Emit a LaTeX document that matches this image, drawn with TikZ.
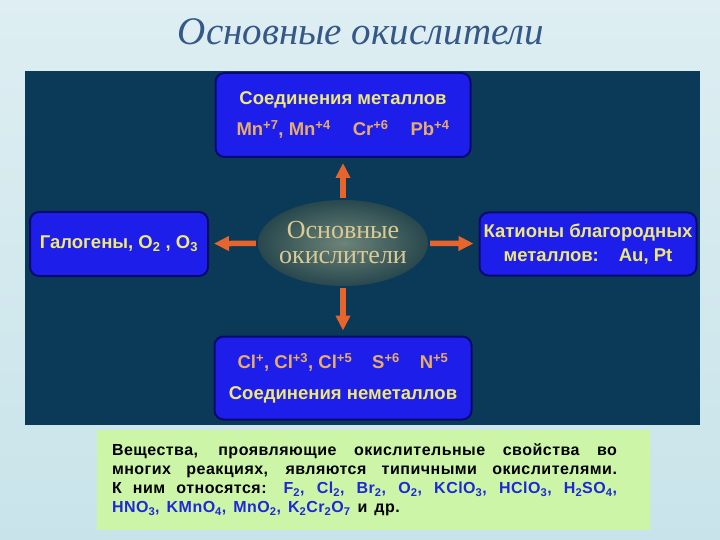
\documentclass[tikz,border=0pt]{standalone}
\usepackage{fontspec}
\setmainfont{Liberation Sans}
\newfontfamily\serifcyr{Liberation Serif}
\newfontfamily\notefont[LetterSpace=3]{Liberation Sans}
\usetikzlibrary{arrows.meta,shapes.geometric}

\definecolor{bgtop}{RGB}{222,238,242}
\definecolor{bgbot}{RGB}{200,228,234}
\definecolor{panel}{RGB}{10,58,88}
\definecolor{titleblue}{RGB}{52,88,135}
\definecolor{boxblue}{RGB}{30,30,235}
\definecolor{boxedge}{RGB}{10,10,110}
\definecolor{yel}{RGB}{238,232,120}
\definecolor{tan}{RGB}{232,172,105}
\definecolor{arrowor}{RGB}{232,100,45}
\definecolor{corein}{RGB}{108,132,120}
\definecolor{coreout}{RGB}{40,72,78}
\definecolor{coretext}{RGB}{218,202,150}
\definecolor{notegreen}{RGB}{204,245,168}
\definecolor{formula}{RGB}{30,40,215}

\newcommand\idx[1]{\textsubscript{#1}}
\newcommand\chg[1]{\textsuperscript{#1}}
\newcommand\notespacing{\spaceskip=7pt plus 8pt minus 1pt\relax}

\begin{document}
\begin{tikzpicture}[x=1pt,y=-1pt,
  box/.style={draw=boxedge,line width=2pt,rounded corners=9pt,fill=boxblue,
    text=yel,align=center,font=\bfseries\fontsize{18.5}{31}\selectfont},
  arr/.style={draw=arrowor,line width=5.5pt,-{Triangle[length=15pt,width=14pt]},
    shorten <=2pt,shorten >=5pt}]
  \useasboundingbox (0,0) rectangle (720,540);
  \fill[top color=bgtop,bottom color=bgbot] (0,0) rectangle (720,540);
  \fill[panel] (25,71) rectangle (700,425);

  \node[text=titleblue,font=\serifcyr\itshape\fontsize{39}{44}\selectfont] (title) at (361,32) {Основные окислители};

  \node[ellipse,minimum width=170pt,minimum height=86pt,inner color=corein,outer color=coreout,
    text=coretext,inner sep=-4pt,align=center,font=\serifcyr\fontsize{26}{25}\selectfont] (core) at (343,243)
    {Основные\\окислители};

  \node[box,minimum width=255pt,minimum height=84pt] (metals) at (343,115)
    {Соединения металлов\\
    \color{tan}Mn\chg{+7}, Mn\chg{+4}\hspace{22pt}Cr\chg{+6}\hspace{22pt}Pb\chg{+4}};
  \node[box,minimum width=178pt,minimum height=64pt] (halogens) at (119,244)
    {Галогены, O\idx{2} , O\idx{3}};
  \node[box,minimum width=217pt,minimum height=63pt,inner sep=2pt,
    font=\bfseries\fontsize{18.5}{24}\selectfont] (cations) at (588,244)
    {Катионы благородных\\металлов:\hspace{20pt}Au, Pt};
  \node[box,minimum width=257pt,minimum height=83pt] (nonmetals) at (343,378)
    {\color{tan}Cl\chg{+}, Cl\chg{+3}, Cl\chg{+5}\hspace{20pt}S\chg{+6}\hspace{20pt}N\chg{+5}\\
    Соединения неметаллов};

  \draw[arr] (core) -- (metals);
  \draw[arr] (core) -- (halogens);
  \draw[arr] (core) -- (cations);
  \draw[arr] (core) -- (nonmetals);

  \node[fill=notegreen,minimum width=553pt,minimum height=100pt] (notebox) at (373.5,480) {};
  \node[text width=505pt,align=justify,inner sep=0pt,
    font=\notefont\bfseries\fontsize{16}{19}\selectfont\notespacing] (note) at (364.5,480)
    {Вещества, проявляющие окислительные свойства во\linebreak
    многих реакциях, являются типичными окислителями.\linebreak
    К ним относятся: {\color{formula}F\idx2, Cl\idx2, Br\idx2, O\idx2, KClO\idx3, HClO\idx3, H\idx2SO\idx4,}\linebreak
    {\color{formula}HNO\idx3, KMnO\idx4, MnO\idx2, K\idx2Cr\idx2O\idx7} и др.};
\end{tikzpicture}
\end{document}
